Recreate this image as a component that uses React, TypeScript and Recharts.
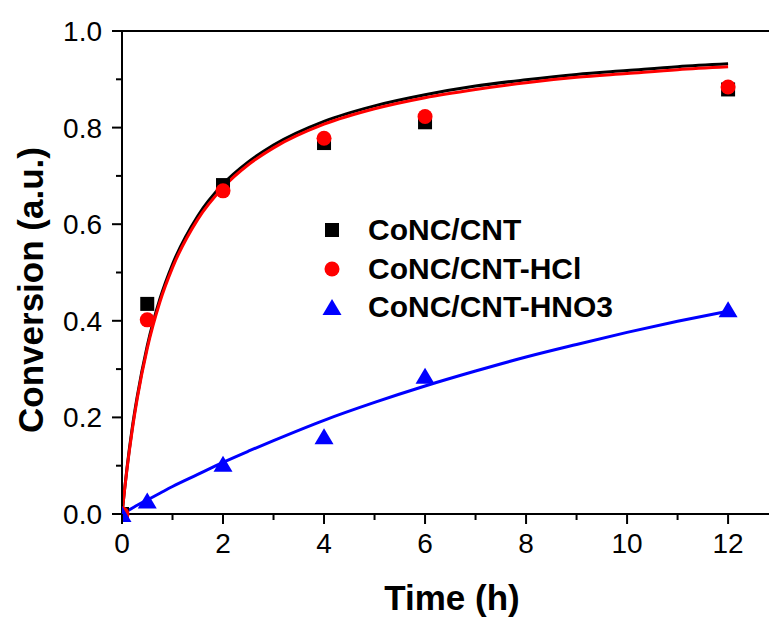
import React from 'react';
import { ComposedChart, Line, Scatter, XAxis, YAxis, ReferenceLine } from 'recharts';

// measured points
const SERIES_NAMES = ['CoNC/CNT', 'CoNC/CNT-HCl', 'CoNC/CNT-HNO3'];
const SERIES_COLORS = ['#000000', '#ff0000', '#0000ff'];
const TIME_POINTS = [0, 0.5, 2, 4, 6, 12];
const CNT_VALUES = [0, 0.435, 0.681, 0.768, 0.811, 0.879];
const HCL_VALUES = [0, 0.402, 0.669, 0.778, 0.823, 0.884];
const HNO3_VALUES = [0, 0.028, 0.104, 0.161, 0.286, 0.424];

// fitted curves
const FIT_TIME = [0, 0.05, 0.1, 0.2, 0.3, 0.5, 0.75, 1, 1.5, 2, 2.5, 3, 4, 5, 6, 7, 8, 9, 10, 11, 12];
const CNT_FIT = [0, 0.05, 0.096, 0.176, 0.242, 0.348, 0.445, 0.517, 0.617, 0.683, 0.729, 0.764, 0.813, 0.845, 0.868, 0.886, 0.899, 0.91, 0.918, 0.926, 0.932];
const HCL_FIT = [0, 0.049, 0.094, 0.172, 0.238, 0.343, 0.439, 0.51, 0.61, 0.676, 0.723, 0.758, 0.807, 0.839, 0.862, 0.879, 0.893, 0.904, 0.912, 0.92, 0.926];
const HNO3_FIT = [0, 0.003, 0.006, 0.012, 0.018, 0.029, 0.043, 0.057, 0.082, 0.107, 0.13, 0.152, 0.194, 0.231, 0.265, 0.296, 0.325, 0.351, 0.376, 0.399, 0.42];

const X_TICKS = [0, 1, 2, 3, 4, 5, 6, 7, 8, 9, 10, 11, 12];
const Y_TICKS = [0, 0.1, 0.2, 0.3, 0.4, 0.5, 0.6, 0.7, 0.8, 0.9, 1.0];

const FONT = '"Liberation Sans", Arial, sans-serif';

const fitRows = FIT_TIME.map((t, i) => ({ t, cnt: CNT_FIT[i], hcl: HCL_FIT[i], hno3: HNO3_FIT[i] }));
const toPoints = (values: number[]) => TIME_POINTS.map((t, i) => ({ t, v: values[i] }));

const XTick = ({ x, y, payload }: any) => {
  const major = payload.value % 2 === 0;
  return (
    <g>
      <line x1={x} x2={x} y1={y} y2={y + (major ? 10 : 6)} stroke="#000" strokeWidth={2} />
      {major && (
        <text x={x} y={y + 39} textAnchor="middle" fontFamily={FONT} fontSize={28} fill="#000">
          {payload.value}
        </text>
      )}
    </g>
  );
};

const YTick = ({ x, y, payload }: any) => {
  const major = Math.round(payload.value * 10) % 2 === 0;
  return (
    <g>
      <line x1={x - (major ? 10 : 6)} x2={x} y1={y} y2={y} stroke="#000" strokeWidth={2} />
      {major && (
        <text x={x - 20} y={y + 10} textAnchor="end" fontFamily={FONT} fontSize={28} fill="#000">
          {payload.value.toFixed(1)}
        </text>
      )}
    </g>
  );
};

const Square = ({ cx, cy, fill }: any) => <rect x={cx - 7} y={cy - 7} width={14} height={14} fill={fill} />;
const Dot = ({ cx, cy, fill }: any) => <circle cx={cx} cy={cy} r={7.5} fill={fill} />;
const Triangle = ({ cx, cy, fill }: any) => (
  <polygon points={`${cx},${cy - 8} ${cx - 9.5},${cy + 8} ${cx + 9.5},${cy + 8}`} fill={fill} />
);

const LegendMarker = ({ index }: { index: number }) => (
  <svg width={20} height={20} style={{ display: 'block' }}>
    {index === 0 && <Square cx={10} cy={10} fill={SERIES_COLORS[0]} />}
    {index === 1 && <Dot cx={10} cy={10} fill={SERIES_COLORS[1]} />}
    {index === 2 && <Triangle cx={10} cy={10} fill={SERIES_COLORS[2]} />}
  </svg>
);

export default function App() {
  return (
    <div style={{ position: 'absolute', left: 0, top: 0, width: 769, height: 617, background: '#fff' }}>
      <ComposedChart width={769} height={617} data={fitRows} margin={{ top: 31, right: 0, bottom: 0, left: 0 }}>
        <XAxis
          dataKey="t"
          type="number"
          domain={[0, 12.81]}
          ticks={X_TICKS}
          interval={0}
          allowDataOverflow
          height={103}
          tickSize={0}
          tickMargin={0}
          tickLine={false}
          axisLine={{ stroke: '#000', strokeWidth: 2 }}
          tick={<XTick />}
          label={{
            content: () => (
              <text x={452} y={610} textAnchor="middle" fontFamily={FONT} fontSize={35} fontWeight="bold" fill="#000">
                Time (h)
              </text>
            ),
          }}
        />
        <YAxis
          type="number"
          domain={[0, 1]}
          ticks={Y_TICKS}
          interval={0}
          width={122}
          tickSize={0}
          tickMargin={0}
          tickLine={false}
          axisLine={{ stroke: '#000', strokeWidth: 2 }}
          tick={<YTick />}
          label={{
            content: () => (
              <text
                x={43}
                y={290}
                transform="rotate(-90 43 290)"
                textAnchor="middle"
                fontFamily={FONT}
                fontSize={35}
                fontWeight="bold"
                fill="#000"
              >
                Conversion (a.u.)
              </text>
            ),
          }}
        />
        <ReferenceLine y={1} stroke="#000" strokeWidth={2} />

        <Scatter data={toPoints(CNT_VALUES)} dataKey="v" fill={SERIES_COLORS[0]} shape={<Square />} isAnimationActive={false} />
        <Scatter data={toPoints(HCL_VALUES)} dataKey="v" fill={SERIES_COLORS[1]} shape={<Dot />} isAnimationActive={false} />
        <Scatter data={toPoints(HNO3_VALUES)} dataKey="v" fill={SERIES_COLORS[2]} shape={<Triangle />} isAnimationActive={false} />

        <Line type="monotone" dataKey="cnt" stroke={SERIES_COLORS[0]} strokeWidth={3} dot={false} activeDot={false} isAnimationActive={false} />
        <Line type="monotone" dataKey="hcl" stroke={SERIES_COLORS[1]} strokeWidth={3} dot={false} activeDot={false} isAnimationActive={false} />
        <Line type="monotone" dataKey="hno3" stroke={SERIES_COLORS[2]} strokeWidth={3} dot={false} activeDot={false} isAnimationActive={false} />
      </ComposedChart>

      {/* legend */}
      <div style={{ position: 'absolute', left: 322, top: 211, fontFamily: FONT, fontSize: 30, fontWeight: 'bold', color: '#000' }}>
        {SERIES_NAMES.map((name, i) => (
          <div key={name} style={{ display: 'flex', alignItems: 'center', height: 38.5 }}>
            <LegendMarker index={i} />
            <span style={{ marginLeft: 26, whiteSpace: 'nowrap' }}>{name}</span>
          </div>
        ))}
      </div>
    </div>
  );
}
